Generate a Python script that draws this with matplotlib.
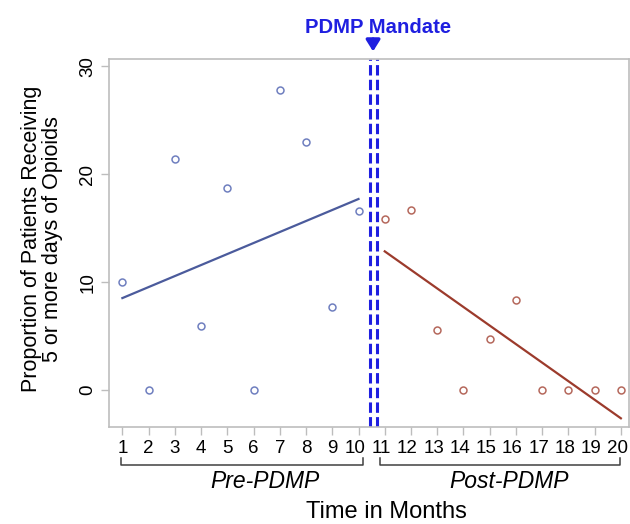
import numpy as np
import matplotlib
matplotlib.use("Agg")
import matplotlib.pyplot as plt
from matplotlib.transforms import ScaledTranslation

plt.rcParams['font.family'] = ['Liberation Sans', 'DejaVu Sans']

# monthly proportions (%)
pre_months = [1, 2, 3, 4, 5, 6, 7, 8, 9, 10]
pre_values = [10.0, 0.0, 21.4, 5.9, 18.7, 0.0, 27.8, 23.0, 7.7, 16.6]
post_months = [11, 12, 13, 14, 15, 16, 17, 18, 19, 20]
post_values = [15.8, 16.7, 5.6, 0.0, 4.75, 8.3, 0.0, 0.0, 0.0, 0.0]
mandate_x = [10.42, 10.69]
y_ticks = [0, 10, 20, 30]

pre_col = '#6f7fbf'
pre_line = '#4b5b9c'
post_col = '#b5685c'
post_line = '#9c3b2c'
blue = '#1f1fe0'
grey = '#bdbdbd'

fig = plt.figure(figsize=(6.3, 5.24), dpi=100)
ax = fig.add_axes([0.173, 0.185, 0.825, 0.702])

ax.plot(pre_months, pre_values, 'o', mfc='none', mec=pre_col, ms=5, mew=1.1)
ax.plot(post_months, post_values, 'o', mfc='none', mec=post_col, ms=5, mew=1.1)

# linear trends for each period
b = np.polyfit(pre_months, pre_values, 1)
xs = np.array([pre_months[0], pre_months[-1]])
ax.plot(xs, np.polyval(b, xs), color=pre_line, lw=1.6)
b = np.polyfit(post_months, post_values, 1)
xs = np.array([post_months[0], post_months[-1]])
ax.plot(xs, np.polyval(b, xs), color=post_line, lw=1.6)

for x in mandate_x:
    ax.axvline(x, color=blue, lw=2.2, dashes=(3.4, 1.4))

ax.set_xlim(0.49, 20.3)
ax.set_ylim(-3.43, 30.65)
ax.set_xticks(pre_months + post_months)
ax.set_yticks(y_ticks)
ax.set_yticklabels([str(t) for t in y_ticks], rotation=90, va='center')
ax.tick_params(axis='both', color=grey, length=6, width=1, labelsize=13.5,
               labelcolor='black', pad=3)
# two-digit labels sit a little left of their ticks
shift = ScaledTranslation(-2.5 / 72, 0, fig.dpi_scale_trans)
for lab, m in zip(ax.get_xticklabels(), pre_months + post_months):
    if m >= 10:
        lab.set_transform(lab.get_transform() + shift)
for s in ax.spines.values():
    s.set_color(grey)
    s.set_linewidth(1.2)

ax.set_ylabel('Proportion of Patients Receiving\n5 or more days of Opioids',
              fontsize=15.5, linespacing=1.0, va='center', multialignment='center')
ax.yaxis.set_label_coords(-0.129, 0.512)

# period brackets under the axis
tr = ax.get_xaxis_transform()
for x0, x1, label, tx in [(0.94, 10.17, 'Pre-PDMP', 6.45),
                          (10.83, 19.98, 'Post-PDMP', 15.75)]:
    ax.plot([x0, x0, x1, x1], [-0.084, -0.103, -0.103, -0.084], color='#404040',
            lw=1.1, transform=tr, clip_on=False)
    ax.text(tx, -0.149, label, transform=tr, ha='center', va='center',
            fontsize=16.5, style='italic')

fig.text(386 / 630, 1 - 512 / 524, 'Time in Months', ha='center', va='center',
         fontsize=17)

# mandate annotation
mx = np.mean(mandate_x)
ax.text(mx + 0.2, 1 + 32 / 368, 'PDMP Mandate', transform=tr,
        ha='center', va='center', fontsize=14.6, fontweight='bold', color=blue)
ax.annotate('', xy=(mx, 1.0 + 5 / 368), xycoords=tr,
            xytext=(mx, 1.0 + 23 / 368), textcoords=tr,
            arrowprops=dict(arrowstyle='-|>,head_length=0.45,head_width=0.28',
                            color=blue, lw=2.4, mutation_scale=15))

fig.savefig('out.png', dpi=100)
